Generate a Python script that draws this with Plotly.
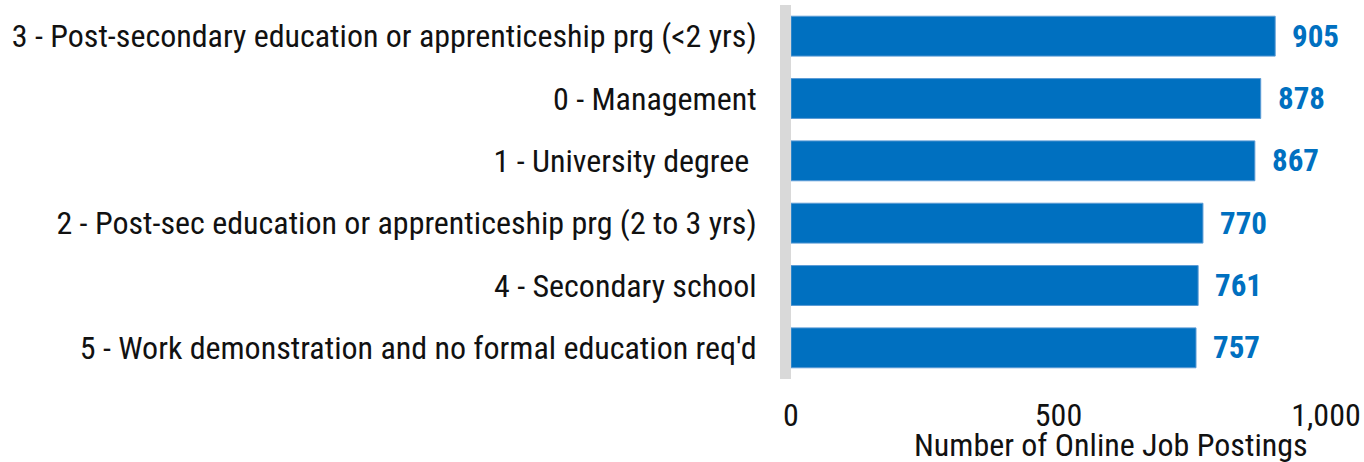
import plotly.graph_objects as go

categories = [
    "3 - Post-secondary education or apprenticeship prg (<2 yrs)",
    "0 - Management",
    "1 - University degree ",
    "2 - Post-sec education or apprenticeship prg (2 to 3 yrs)",
    "4 - Secondary school",
    "5 - Work demonstration and no formal education req'd",
]
values = [905, 878, 867, 770, 761, 757]
x_ticks = [0, 500, 1000]
x_tick_labels = ["0", "500", "1,000"]
x_title = "Number of Online Job Postings"

BLUE = "#0070c0"
FONT = "Roboto Condensed, Roboto, sans-serif"

fig = go.Figure()
fig.add_trace(go.Bar(
    x=values, y=categories, orientation="h",
    marker=dict(color=BLUE, line=dict(color="#5b9bd5", width=1)),
    hoverinfo="skip",
))

for v, c in zip(values, categories):
    fig.add_annotation(
        x=v, y=c, xref="x", yref="y", text=f"<b>{v:,}</b>",
        showarrow=False, xanchor="left", yanchor="middle", xshift=15,
        font=dict(family=FONT, size=31, color=BLUE),
    )

fig.add_annotation(
    x=0.598, y=0, xref="paper", yref="paper", text=x_title,
    showarrow=False, xanchor="center", yanchor="top", yshift=-45,
    font=dict(family=FONT, size=32, color="#111111"),
)

fig.update_layout(
    width=1364, height=462,
    margin=dict(l=791, r=38, t=5, b=83, pad=0, autoexpand=False),
    paper_bgcolor="white", plot_bgcolor="white",
    bargap=0.36, showlegend=False,
    font=dict(family=FONT, size=32, color="#111111"),
)
fig.update_xaxes(
    range=[0, 1000], tickvals=x_ticks, ticktext=x_tick_labels,
    showgrid=False, zeroline=False, showline=False, automargin=False,
    tickfont=dict(family=FONT, size=32, color="#111111"),
    ticks="outside", ticklen=8, tickcolor="rgba(0,0,0,0)",
)
fig.update_yaxes(
    autorange="reversed", showgrid=False, zeroline=False, automargin=False,
    showline=True, linecolor="#d9d9d9", linewidth=11,
    tickfont=dict(family=FONT, size=32, color="#111111"),
    ticks="outside", ticklen=17, tickcolor="rgba(0,0,0,0)",
)

post = """
document.body.style.margin='0';
document.body.style.padding='0';
document.querySelectorAll('.main-svg text').forEach(function(t){t.style.fontStretch='75%';});
"""
fig.write_html("out.html", post_script=post, config={"displayModeBar": False})
